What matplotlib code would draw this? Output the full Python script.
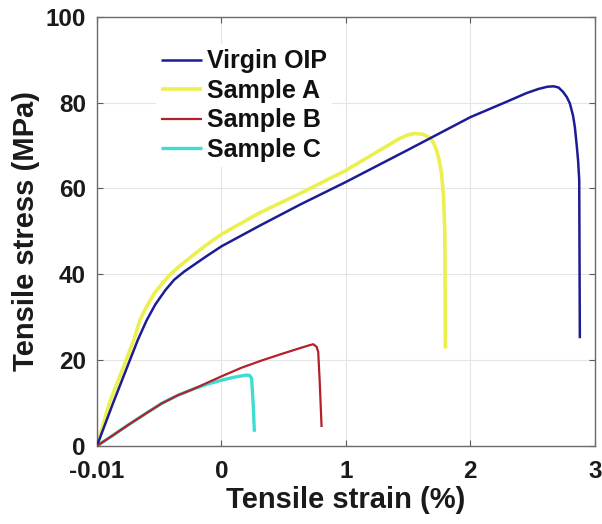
import matplotlib
matplotlib.use("Agg")
import matplotlib.pyplot as plt

plt.rcParams['font.family'] = ['Liberation Sans', 'DejaVu Sans']
plt.rcParams['font.weight'] = 'bold'

# Stress-strain curves (strain in %, stress in MPa)
virgin_x = [-1.0, -0.87, -0.735, -0.67, -0.60, -0.53, -0.45, -0.38, -0.30, -0.22, -0.12,
            0.0, 0.3, 0.63, 1.0, 1.5, 2.0, 2.3, 2.45, 2.55, 2.62, 2.67, 2.71, 2.745,
            2.775, 2.80, 2.825, 2.84, 2.855, 2.866, 2.875, 2.88]
virgin_y = [0, 10, 20, 24.8, 29.3, 33.0, 36.3, 38.7, 40.6, 42.2, 44.2,
            46.5, 51.2, 56.2, 61.5, 69.0, 76.6, 80.3, 82.2, 83.2, 83.7, 83.8, 83.5, 82.5,
            81.3, 79.8, 77.0, 74.3, 70.0, 66.5, 62.0, 25.1]

a_x = [-1.0, -0.90, -0.765, -0.70, -0.655, -0.60, -0.54, -0.47, -0.41, -0.34, -0.28,
       -0.15, 0.0, 0.3, 0.63, 1.0, 1.43, 1.50, 1.554, 1.62, 1.675, 1.705, 1.729,
       1.75, 1.769, 1.785, 1.795, 1.80]
a_y = [0, 10, 20, 25.0, 29.3, 32.5, 35.5, 38.0, 40.0, 41.8, 43.2,
       46.2, 49.3, 54.2, 58.8, 64.2, 71.6, 72.5, 72.8, 72.6, 71.8, 70.6, 68.9,
       66.5, 63.4, 58.0, 50.0, 22.7]

b_x = [-1.0, -0.87, -0.748, -0.61, -0.48, -0.35, -0.213, -0.10, 0.0, 0.16, 0.323,
       0.47, 0.60, 0.70, 0.738, 0.765, 0.778, 0.79, 0.805]
b_y = [0, 2.5, 4.9, 7.5, 9.9, 11.8, 13.4, 14.9, 16.2, 18.2, 19.9,
       21.3, 22.5, 23.4, 23.7, 23.1, 21.9, 15.0, 4.4]

c_x = [-1.0, -0.87, -0.748, -0.61, -0.48, -0.35, -0.213, -0.10, 0.0, 0.1, 0.2,
       0.228, 0.243, 0.255, 0.265]
c_y = [0, 2.5, 4.9, 7.5, 9.9, 11.8, 13.4, 14.5, 15.3, 16.0, 16.5,
       16.4, 15.7, 10.0, 3.3]

x_ticks = [-1, 0, 1, 2, 3]
x_tick_labels = ['-0.01', '0', '1', '2', '3']
y_ticks = [0, 20, 40, 60, 80, 100]

fig = plt.figure(figsize=(6.02, 5.24), dpi=100)
ax = fig.add_axes([0.161, 0.149, 0.827, 0.819])

style = dict(solid_joinstyle='round', solid_capstyle='butt')
h_a, = ax.plot(a_x, a_y, color='#ecf04e', lw=2.6, label='Sample A', zorder=2, **style)
h_c, = ax.plot(c_x, c_y, color='#3fdcd4', lw=2.4, label='Sample C', zorder=2, **style)
h_v, = ax.plot(virgin_x, virgin_y, color='#1c1c96', lw=1.8, label='Virgin OIP', zorder=3, **style)
h_b, = ax.plot(b_x, b_y, color='#b4202a', lw=1.6, label='Sample B', zorder=3, **style)

ax.set_xlim(-1, 3)
ax.set_ylim(0, 100)
ax.set_xticks(x_ticks)
ax.set_xticklabels(x_tick_labels)
ax.set_yticks(y_ticks)
ax.grid(True, color='#e4e4e4', lw=0.8)
ax.set_axisbelow(True)
ax.tick_params(direction='in', length=4, width=0.8, top=True, right=True,
               labelsize=17.5, colors='#5a5a5a', labelcolor='#1a1a1a')
ax.tick_params(axis='x', pad=10)
ax.tick_params(axis='y', pad=8)
for sp in ax.spines.values():
    sp.set_color('#6a6a6a')
    sp.set_linewidth(1.0)

ax.set_xlabel('Tensile strain (%)', fontsize=21, fontweight='bold', color='#1a1a1a')
ax.set_ylabel('Tensile stress (MPa)', fontsize=21, fontweight='bold', color='#1a1a1a')
ax.xaxis.set_label_coords(0.5, -0.093)
ax.yaxis.set_label_coords(-0.114, 0.5)

leg = ax.legend(handles=[h_v, h_a, h_b, h_c], loc='upper left',
                bbox_to_anchor=(0.094, 0.965), frameon=True, fancybox=False,
                edgecolor='none', facecolor='white', framealpha=1.0,
                prop={'size': 18, 'weight': 'bold'}, handlelength=1.65,
                handletextpad=0.2, labelspacing=0.22, borderpad=0.2)
for t in leg.get_texts():
    t.set_color('#111111')

fig.savefig('out.png', dpi=100, facecolor='white')
